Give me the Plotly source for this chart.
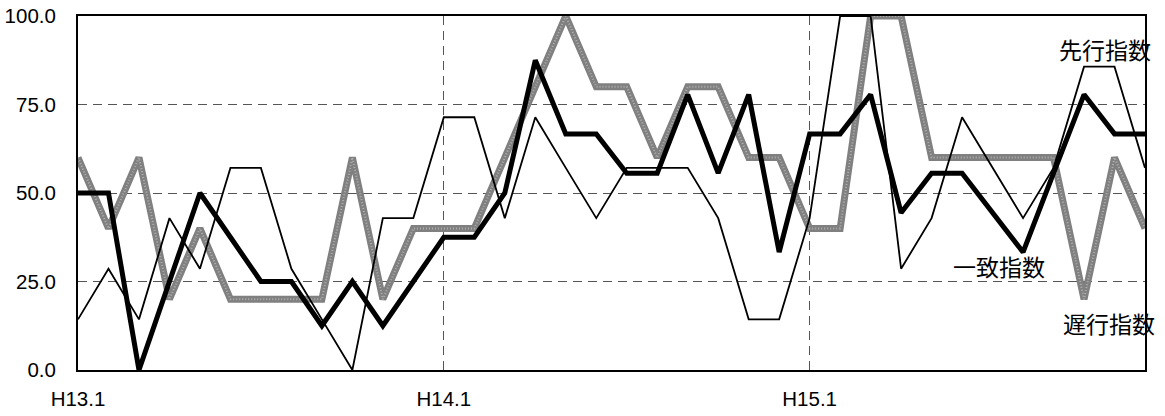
import plotly.graph_objects as go

months = list(range(36))
tick_pos = [0, 12, 24]
tick_labels = ["H13.1", "H14.1", "H15.1"]

leading = [14.3, 28.6, 14.3, 42.9, 28.6, 57.1, 57.1, 28.6, 14.3, 0.0,
           42.9, 42.9, 71.4, 71.4, 42.9, 71.4, 57.1, 42.9, 57.1, 57.1,
           57.1, 42.9, 14.3, 14.3, 42.9, 100.0, 100.0, 28.6, 42.9, 71.4,
           57.1, 42.9, 57.1, 85.7, 85.7, 57.1]
coincident = [50.0, 50.0, 0.0, 25.0, 50.0, 37.5, 25.0, 25.0, 12.5, 25.0,
              12.5, 25.0, 37.5, 37.5, 50.0, 87.5, 66.7, 66.7, 55.6, 55.6,
              77.8, 55.6, 77.8, 33.3, 66.7, 66.7, 77.8, 44.4, 55.6, 55.6,
              44.4, 33.3, 55.6, 77.8, 66.7, 66.7]
lagging = [60, 40, 60, 20, 40, 20, 20, 20, 20, 60,
           20, 40, 40, 40, 60, 80, 100, 80, 80, 60,
           80, 80, 60, 60, 40, 40, 100, 100, 60, 60,
           60, 60, 60, 20, 60, 40]

labels = [("先行指数", 33.68, 90.7), ("一致指数", 30.22, 29.4), ("遅行指数", 33.83, 13.3)]

fig = go.Figure()
fig.add_trace(go.Scatter(x=months, y=lagging, mode="lines",
                         line=dict(color="#808080", width=7), name="遅行指数"))
fig.add_trace(go.Scatter(x=months, y=lagging, mode="lines",
                         line=dict(color="#b0b0b0", width=2, dash="1px,2px"), hoverinfo="skip"))
fig.add_trace(go.Scatter(x=months, y=leading, mode="lines",
                         line=dict(color="black", width=1.8), name="先行指数"))
fig.add_trace(go.Scatter(x=months, y=coincident, mode="lines",
                         line=dict(color="black", width=5), name="一致指数"))

for text, x, y in labels:
    fig.add_annotation(x=x, y=y, text=text, showarrow=False,
                       font=dict(family="Noto Sans CJK JP", size=23, color="black"))

fig.update_layout(
    width=1165, height=416,
    margin=dict(l=78, r=20, t=16, b=46),
    paper_bgcolor="white", plot_bgcolor="white",
    showlegend=False,
    font=dict(family="Liberation Sans, Arial", size=20.5, color="black"),
)
fig.update_xaxes(range=[0, 35], tickvals=tick_pos, ticktext=tick_labels,
                 showgrid=True, gridcolor="#555555", griddash="9px,6px", gridwidth=1,
                 showline=True, linecolor="black", linewidth=2, mirror=True,
                 ticks="", ticklabelstandoff=9, zeroline=False, automargin=False,
                 ticklabeloverflow="allow")
fig.update_yaxes(range=[0, 100], tickvals=[0, 25, 50, 75, 100], tickformat=".1f",
                 showgrid=True, gridcolor="#555555", griddash="9px,6px", gridwidth=1,
                 showline=True, linecolor="black", linewidth=2, mirror=True,
                 ticks="", ticklabelstandoff=16, zeroline=False, automargin=False,
                 ticklabeloverflow="allow")

fig.write_html("out.html", config={"displayModeBar": False},
               post_script="document.body.style.margin='0';document.body.style.overflow='hidden';")
